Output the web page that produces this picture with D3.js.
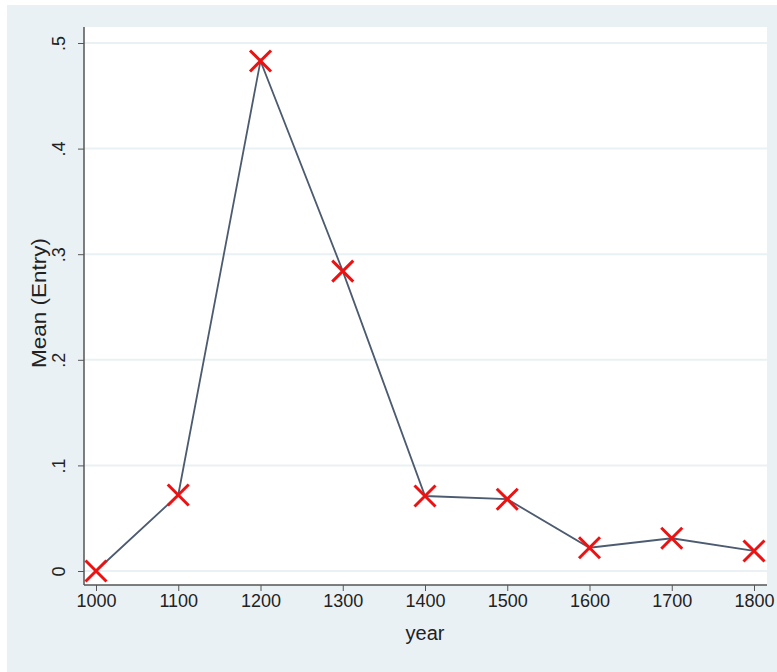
<!DOCTYPE html>
<html>
<head>
<meta charset="utf-8">
<script src="https://cdn.jsdelivr.net/npm/d3@7"></script>
<style>
  body { margin: 0; background: #fff; }
  text { font-family: Arial, "Liberation Sans", sans-serif; fill: #222; }
</style>
</head>
<body>
<svg id="vis"></svg>
<script>
// dados
const anos = [1000, 1100, 1200, 1300, 1400, 1500, 1600, 1700, 1800];
const medias = [0, 0.072, 0.483, 0.284, 0.071, 0.068, 0.022, 0.031, 0.019];
const y_ticks = [0, 0.1, 0.2, 0.3, 0.4, 0.5];
const y_tick_labels = ["0", ".1", ".2", ".3", ".4", ".5"];

const w = 777, h = 672;
const plot = { left: 84, right: 767, top: 27, bottom: 585 };

const $svg = d3.select('#vis').attr('width', w).attr('height', h);

// fundo
$svg.append('rect')
  .attr('x', 7).attr('y', 5).attr('width', w - 7).attr('height', h - 5)
  .attr('fill', '#eaf1f4');

$svg.append('rect')
  .attr('x', plot.left).attr('y', plot.top)
  .attr('width', plot.right - plot.left).attr('height', plot.bottom - plot.top)
  .attr('fill', '#fff');

// escalas
const x = d3.scaleLinear().domain([1000, 1800]).range([96, 754]);
const y = d3.scaleLinear().domain([0, 0.5]).range([571, 43]);

// grade
$svg.append('g')
  .selectAll('line')
  .data(y_ticks)
  .join('line')
  .attr('x1', plot.left).attr('x2', plot.right)
  .attr('y1', d => y(d)).attr('y2', d => y(d))
  .attr('stroke', '#eaf1f4')
  .attr('stroke-width', 2);

// eixo y
const eixo_y = $svg.append('g')
  .attr('transform', `translate(${plot.left},0)`)
  .call(d3.axisLeft(y).tickValues(y_ticks).tickSize(6)
    .tickFormat((d, i) => y_tick_labels[i]));
eixo_y.select('.domain').attr('d', `M0,${plot.top}V${plot.bottom}`)
  .attr('stroke', '#555').attr('stroke-width', 1.5);
eixo_y.selectAll('.tick line').attr('stroke', '#555');
eixo_y.selectAll('.tick text')
  .attr('font-size', 18)
  .attr('fill', '#222')
  .attr('x', 0).attr('dy', null)
  .attr('text-anchor', 'middle')
  .attr('transform', 'translate(-19,0) rotate(-90)');

// eixo x
const eixo_x = $svg.append('g')
  .attr('transform', `translate(0,${plot.bottom})`)
  .call(d3.axisBottom(x).tickValues(anos).tickSize(6).tickFormat(d3.format('d')));
eixo_x.select('.domain').attr('d', `M${plot.left},0H${plot.right}`)
  .attr('stroke', '#555').attr('stroke-width', 1.5);
eixo_x.selectAll('.tick line').attr('stroke', '#555');
eixo_x.selectAll('.tick text')
  .attr('font-size', 18)
  .attr('fill', '#222')
  .attr('y', 9);

// titulos
$svg.append('text')
  .attr('transform', 'translate(46,303) rotate(-90)')
  .attr('text-anchor', 'middle')
  .attr('font-size', 20)
  .attr('textLength', 130)
  .attr('lengthAdjust', 'spacingAndGlyphs')
  .text('Mean (Entry)');

$svg.append('text')
  .attr('x', 425)
  .attr('y', 640)
  .attr('text-anchor', 'middle')
  .attr('font-size', 20)
  .text('year');

// linha
const dados = anos.map((a, i) => ({ ano: a, valor: medias[i] }));

const linha = d3.line().x(d => x(d.ano)).y(d => y(d.valor));
$svg.append('path')
  .datum(dados)
  .attr('d', linha)
  .attr('fill', 'none')
  .attr('stroke', '#4c5b70')
  .attr('stroke-width', 1.8);

// marcadores X
const r = 10.5;
const marcas = $svg.append('g')
  .selectAll('path')
  .data(dados)
  .join('path')
  .attr('d', d => {
    const cx = x(d.ano), cy = y(d.valor);
    return `M${cx - r},${cy - r}L${cx + r},${cy + r}M${cx - r},${cy + r}L${cx + r},${cy - r}`;
  })
  .attr('stroke', '#ee1111')
  .attr('stroke-width', 3)
  .attr('fill', 'none');
</script>
</body>
</html>
